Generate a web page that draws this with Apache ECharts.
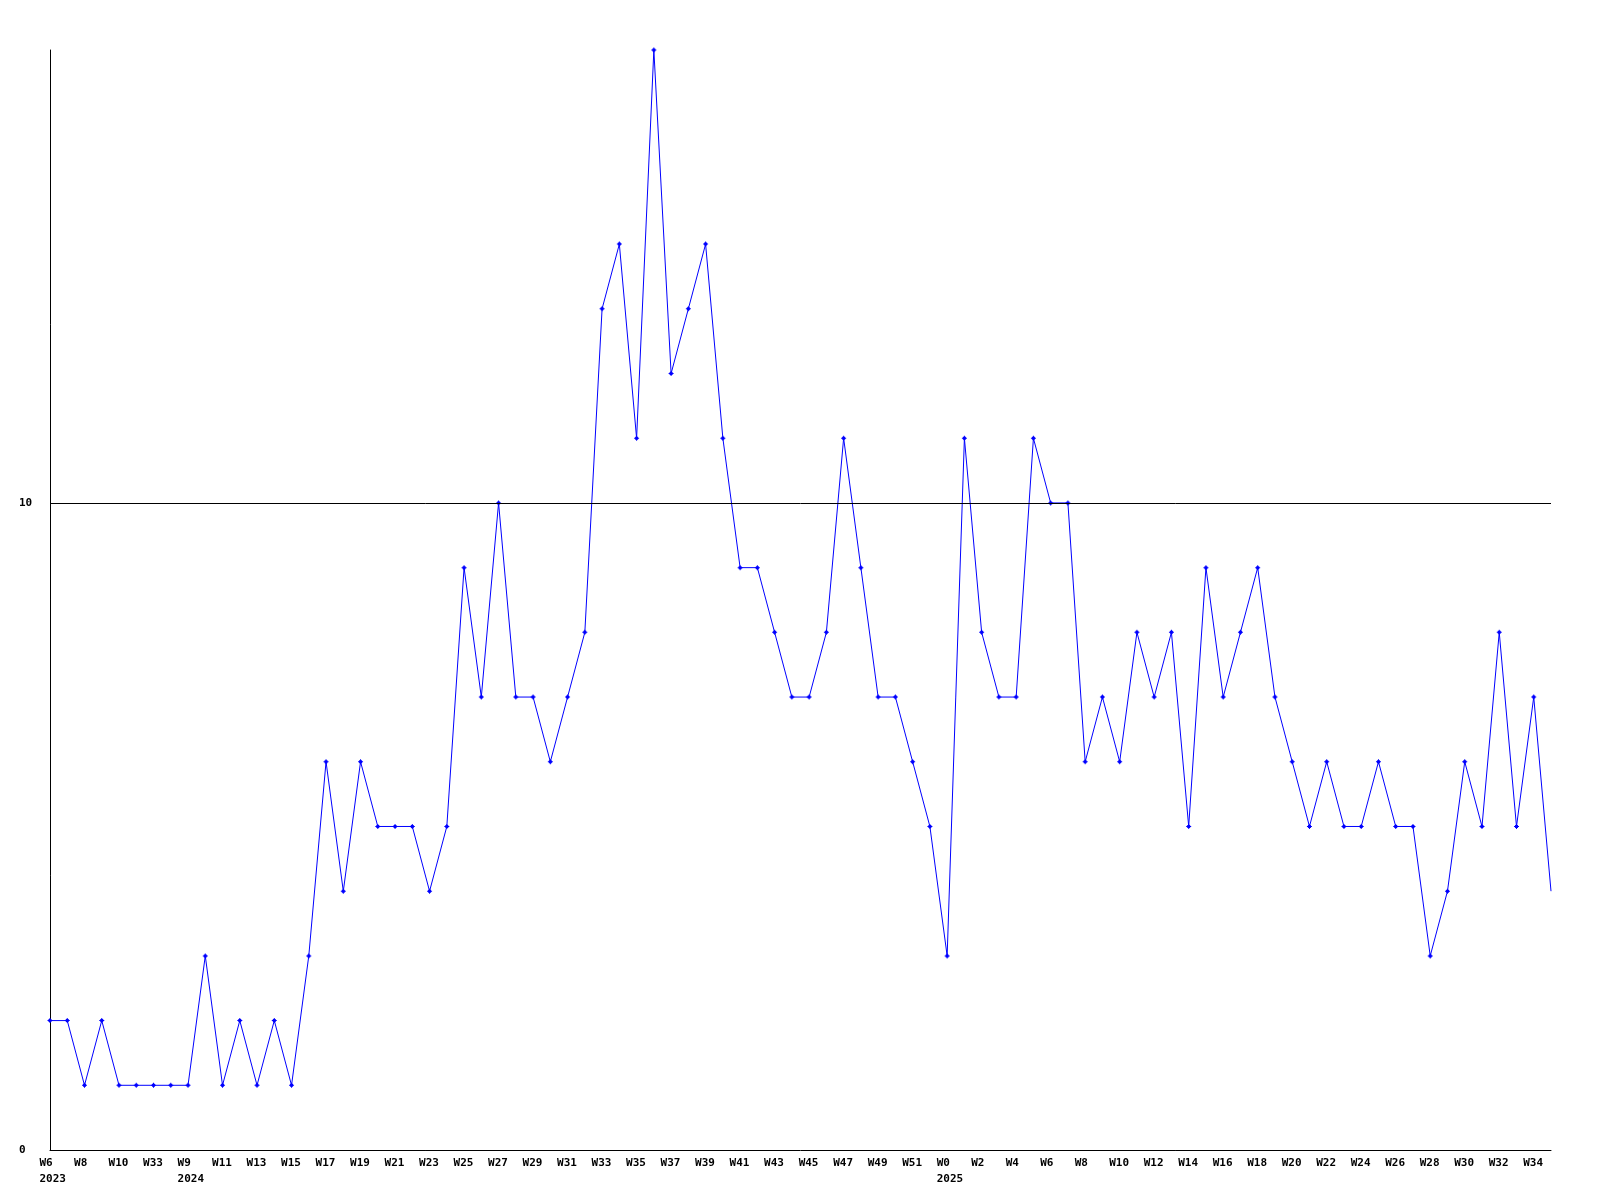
<!DOCTYPE html>
<html>
<head>
<meta charset="utf-8">
<script src="https://cdn.jsdelivr.net/npm/echarts@6/dist/echarts.min.js"></script>
<style>
html,body{margin:0;padding:0;background:#fff;}
#chart{width:1600px;height:1200px;}
</style>
</head>
<body>
<div id="chart"></div>
<script>
// Week labels (one per data point; only every second one is shown)
const weeks = [
  'W6','W7','W8','W9','W10','W32','W33','W34',
  'W9','W10','W11','W12','W13','W14','W15','W16','W17','W18','W19','W20','W21','W22','W23','W24','W25','W26','W27','W28','W29','W30',
  'W31','W32','W33','W34','W35','W36','W37','W38','W39','W40','W41','W42','W43','W44','W45','W46','W47','W48','W49','W50','W51','W52',
  'W0','W1','W2','W3','W4','W5','W6','W7','W8','W9','W10','W11','W12','W13','W14','W15','W16','W17','W18','W19','W20','W21','W22','W23',
  'W24','W25','W26','W27','W28','W29','W30','W31','W32','W33','W34','W35'
];
const years = [
  '2023','2023','2023','2023','2023','2023','2023','2023',
  '2024','2024','2024','2024','2024','2024','2024','2024','2024','2024','2024','2024','2024','2024','2024','2024','2024','2024','2024','2024','2024','2024',
  '2024','2024','2024','2024','2024','2024','2024','2024','2024','2024','2024','2024','2024','2024','2024','2024','2024','2024','2024','2024','2024','2024',
  '2025','2025','2025','2025','2025','2025','2025','2025','2025','2025','2025','2025','2025','2025','2025','2025','2025','2025','2025','2025','2025','2025','2025','2025',
  '2025','2025','2025','2025','2025','2025','2025','2025','2025','2025','2025','2025'
];
const values = [
  2,2,1,2,1,1,1,1,1,3,
  1,2,1,2,1,3,6,4,6,5,
  5,5,4,5,9,7,10,7,7,6,
  7,8,13,14,11,17,12,13,14,11,
  9,9,8,7,7,8,11,9,7,7,
  6,5,3,11,8,7,7,11,10,10,
  6,7,6,8,7,8,5,9,7,8,
  9,7,6,5,6,5,5,6,5,5,
  3,4,6,5,8,5,7,4
];
const yTicks = [0, 10];
const refLine = 10;

const cats = weeks.map((w, i) => w + '|' + years[i]);
function labelFmt(val, idx) {
  const parts = val.split('|');
  let showYear = idx === 0;
  if (idx >= 2 && years[idx - 2] !== parts[1]) showYear = true;
  return showYear ? parts[0] + '\n' + parts[1] : parts[0];
}

const markerPath = 'path://M2,0H3V1H4V2H5V3H4V4H3V5H2V4H1V3H0V2H1V1H2Z';
const seriesData = values.map((v, i) => i === values.length - 1 ? { value: v, symbol: 'none' } : v);

const font = { fontFamily: '"DejaVu Sans Mono", monospace', fontWeight: 'bold', fontSize: 11, color: '#000' };

const chart = echarts.init(document.getElementById('chart'), null, { renderer: 'canvas' });
chart.setOption({
  animation: false,
  backgroundColor: '#ffffff',
  grid: [
    { left: 50, right: 49, top: 50, bottom: 50, containLabel: false },
    { left: 39.5, right: 59.5, top: 50, bottom: 50, containLabel: false }
  ],
  xAxis: [
    {
      type: 'category', gridIndex: 0, data: cats, boundaryGap: false,
      axisLine: { show: true, lineStyle: { color: '#000', width: 1 } },
      axisTick: { show: false },
      axisLabel: { show: false },
      splitLine: { show: false }
    },
    {
      type: 'category', gridIndex: 1, data: cats, boundaryGap: false,
      axisLine: { show: false },
      axisTick: { show: false },
      axisLabel: Object.assign({ show: true, interval: 1, align: 'left', margin: 5, lineHeight: 16, formatter: labelFmt }, font),
      splitLine: { show: false }
    }
  ],
  yAxis: [
    {
      type: 'value', gridIndex: 0, min: 0, max: 17, interval: 10,
      axisLine: { show: true, lineStyle: { color: '#000', width: 1 } },
      axisTick: { show: false },
      axisLabel: Object.assign({
        show: true, align: 'left', margin: 31, showMaxLabel: false,
        formatter: v => (yTicks.indexOf(v) >= 0 ? String(v) : '')
      }, font),
      splitLine: { show: false }
    },
    { type: 'value', gridIndex: 1, min: 0, max: 1, show: false }
  ],
  series: [
    {
      type: 'line', xAxisIndex: 0, yAxisIndex: 0,
      data: seriesData,
      symbol: markerPath, symbolSize: 5, showAllSymbol: true,
      lineStyle: { color: '#0000ff', width: 1 },
      itemStyle: { color: '#0000ff' },
      emphasis: { disabled: true },
      markLine: {
        silent: true, symbol: 'none', animation: false,
        label: { show: false },
        lineStyle: { color: '#000', width: 1, type: 'solid' },
        data: [{ yAxis: refLine }]
      },
      z: 3
    }
  ]
});
</script>
</body>
</html>
